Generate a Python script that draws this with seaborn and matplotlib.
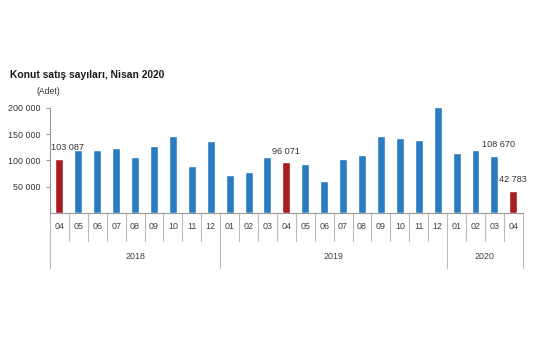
import numpy as np
import pandas as pd
import seaborn as sns
import matplotlib.pyplot as plt
import matplotlib.transforms as mtransforms

# Data: monthly house sales (Adet), 2018-04 .. 2020-04
years = ['2018'] * 9 + ['2019'] * 12 + ['2020'] * 4
months = ['04', '05', '06', '07', '08', '09', '10', '11', '12',
          '01', '02', '03', '04', '05', '06', '07', '08', '09', '10', '11', '12',
          '01', '02', '03', '04']
sales = [103087, 120500, 120500, 123700, 105800, 126900, 146800, 89100, 136500,
         72400, 78800, 105800, 96071, 92300, 60900, 102600, 110300, 146800, 143600, 138500, 201300,
         113500, 119200, 108670, 42783]
labelled = {0: '103 087', 12: '96 071', 23: '108 670', 24: '42 783'}

df = pd.DataFrame({'period': [y + '-' + m for y, m in zip(years, months)],
                   'month': months, 'year': years, 'sales': sales})
df['kind'] = np.where(df['month'] == '04', 'nisan', 'other')

sns.set_style('white')
plt.rcParams['font.family'] = ['Liberation Sans', 'DejaVu Sans']

fig = plt.figure(figsize=(5.55, 3.55), dpi=100)
ax = fig.add_axes([0.090, 0.400, 0.852, 0.311])

sns.barplot(data=df, x='period', y='sales', hue='kind', order=df['period'],
            palette={'nisan': '#A81C20', 'other': '#2A7CC2'}, width=0.42,
            saturation=1, dodge=False, legend=False, ax=ax)

ax.set_ylim(0, 210000)
ax.set_xlim(-0.5, len(df) - 0.5)
ax.set_yticks([50000, 100000, 150000, 200000])
ax.set_yticklabels(['50 000', '100 000', '150 000', '200 000'])
ax.tick_params(axis='y', labelsize=6.4, labelcolor='#333333', length=3, width=0.8,
               left=True, color='#999999')
ax.set_xlabel('')
ax.set_ylabel('')

for s in ['top', 'right']:
    ax.spines[s].set_visible(False)
ax.spines['left'].set_bounds(0, 200000)
ax.spines['left'].set_color('#999999')
ax.spines['bottom'].set_color('#999999')

# month labels and separators below the axis
ax.set_xticks([])
trans = mtransforms.blended_transform_factory(ax.transData, ax.transAxes)
for i, m in enumerate(df['month']):
    ax.text(i, -0.12, m, transform=trans, ha='center', va='center', fontsize=6.4, color='#404040')
for i in range(len(df) + 1):
    x = i - 0.5
    new_year = i in (0, 9, 21, 25)
    ax.plot([x, x], [0, -0.50 if new_year else -0.25], transform=trans,
            color='#bbbbbb', lw=0.8, clip_on=False)
for yr in ['2018', '2019', '2020']:
    idx = df.index[df['year'] == yr]
    ax.text((idx.min() + idx.max()) / 2, -0.39, yr, transform=trans,
            ha='center', va='center', fontsize=6.4, color='#404040')

# value labels
shift = {0: 6, 12: 0, 23: 3, 24: 0}
for i, txt in labelled.items():
    ax.annotate(txt, (i, sales[i]), xytext=(shift[i], 5), textcoords='offset points',
                ha='center', va='bottom', fontsize=6.6, color='#333333')

fig.text(0.018, 0.79, 'Konut satış sayıları, Nisan 2020', fontsize=7.4,
         fontweight='bold', color='#1a1a1a', va='center')
fig.text(0.066, 0.742, '(Adet)', fontsize=6.2, color='#333333', va='center')

fig.savefig('out.png', dpi=100)
